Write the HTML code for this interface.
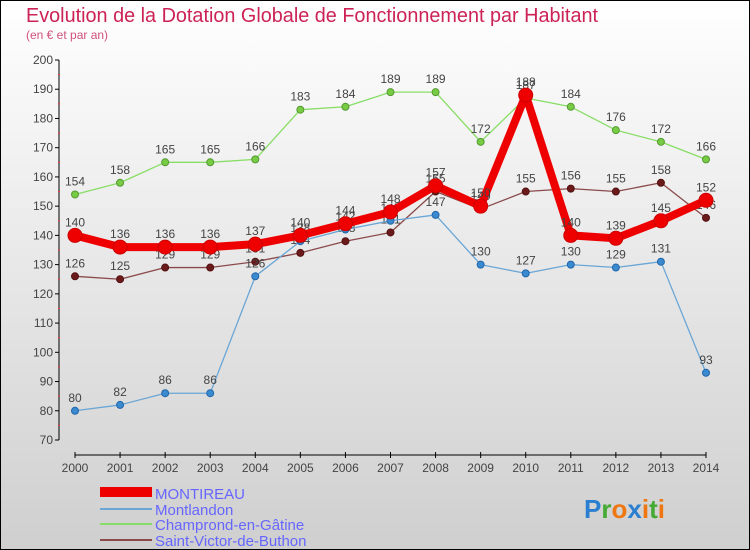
<!DOCTYPE html>
<html><head><meta charset="utf-8"><style>
body{margin:0}
#c{width:750px;height:550px;position:relative;overflow:hidden}
svg text{font-family:"Liberation Sans",sans-serif}
</style></head><body>
<div id="c">
<svg id="s" width="750" height="550" xmlns="http://www.w3.org/2000/svg">
<defs><linearGradient id="bg" x1="0" y1="0" x2="0" y2="1"><stop offset="0" stop-color="#ffffff"/><stop offset="1" stop-color="#cfcfcf"/></linearGradient></defs>
<rect x="0.5" y="0.5" width="749" height="549" fill="url(#bg)" stroke="#000"/>
<text x="26" y="22" font-size="20" fill="#cc2255" textLength="572" lengthAdjust="spacingAndGlyphs">Evolution de la Dotation Globale de Fonctionnement par Habitant</text>
<text x="26" y="39" font-size="12" fill="#d0507a">(en € et par an)</text>
<g id="axes"></g><g id="series"></g>
<g>
<rect x="100" y="487" width="52" height="10" fill="#ee0000"/>
<text x="155" y="499" font-size="15" fill="#6666ff">MONTIREAU</text>
<rect x="100" y="508" width="52" height="2" fill="#6aa6d6"/>
<text x="155" y="515" font-size="15" fill="#6666ff">Montlandon</text>
<rect x="100" y="523" width="52" height="2" fill="#88dd66"/>
<text x="155" y="530" font-size="15" fill="#6666ff">Champrond-en-Gâtine</text>
<rect x="100" y="539" width="52" height="2" fill="#8a4a4a"/>
<text x="155" y="546" font-size="15" fill="#6666ff">Saint-Victor-de-Buthon</text>
</g>
<text x="584" y="518" font-size="26" font-weight="bold"><tspan fill="#2a7fd0">P</tspan><tspan fill="#44aa33">r</tspan><tspan fill="#ee7711">o</tspan><tspan fill="#2a7fd0">x</tspan><tspan fill="#ee7711">i</tspan><tspan fill="#44aa33">t</tspan><tspan fill="#ee7711">i</tspan></text>
</svg></div>
<script>
const years=[2000,2001,2002,2003,2004,2005,2006,2007,2008,2009,2010,2011,2012,2013,2014];
const yTicks=[70,80,90,100,110,120,130,140,150,160,170,180,190,200];
const montireau=[140,136,136,136,137,140,144,148,157,150,188,140,139,145,152];
const montlandon=[80,82,86,86,126,138,142,145,147,130,127,130,129,131,93];
const champrond=[154,158,165,165,166,183,184,189,189,172,187,184,176,172,166];
const saintVictor=[126,125,129,129,131,134,138,141,155,149,155,156,155,158,146];
const NS="http://www.w3.org/2000/svg";
function xs(i){return 75+i*(706-75)/(years.length-1);}
function ys(v){return 440-(v-70)*(380/130);}
function mk(t,a,p){const e=document.createElementNS(NS,t);for(const k in a)e.setAttribute(k,a[k]);p.appendChild(e);return e;}
const ax=document.getElementById('axes');
const yl=mk('line',{x1:59,y1:60,x2:59,y2:440,stroke:'#000'},ax);


yTicks.forEach(v=>{
 mk('line',{x1:55,y1:ys(v),x2:59,y2:ys(v),stroke:'#000'},ax);
 if(v<200)mk('line',{x1:58,y1:ys(v+5),x2:60,y2:ys(v+5),stroke:'#e33'},ax);
 const t=mk('text',{x:53,y:ys(v)+4,'font-size':12,'text-anchor':'end',fill:'#444'},ax);t.textContent=v;
 
 
});
const xl=mk('line',{x1:75,y1:455,x2:706,y2:455,stroke:'#000'},ax);


years.forEach((y,i)=>{
 mk('line',{x1:xs(i),y1:452,x2:xs(i),y2:458,stroke:'#000'},ax);
 const t=mk('text',{x:xs(i),y:472,'font-size':12,'text-anchor':'middle',fill:'#444'},ax);t.textContent=y;
 
 
});
const sg=document.getElementById('series');
function draw(data,name,color,w,r,dot,stroke){
 const g=mk('g',{},sg);
 
 
 const l=mk('polyline',{points:data.map((v,i)=>xs(i)+','+ys(v)).join(' '),fill:'none',stroke:color,'stroke-width':w,'stroke-linejoin':'round'},g);
 
 
 data.forEach((v,i)=>{
  const c=mk('circle',{cx:xs(i),cy:ys(v),r:r,fill:dot,stroke:stroke,'stroke-width':1},g);
  
  
  const t=mk('text',{x:xs(i),y:ys(v)-9,'font-size':12,'text-anchor':'middle',fill:'#444'},g);t.textContent=v;
  
  
 });
}
draw(champrond,'champrond','#88dd66',1.3,3.5,'#77cc44','#559933');
draw(saintVictor,'saint-victor','#8a4a4a',1.3,3.5,'#6a1a1a','#551111');
draw(montlandon,'montlandon','#6aa6d6',1.3,3.5,'#3a8ad0','#2266aa');
draw(montireau,'montireau','#ee0000',8,7,'#ee0000','#cc0000');
</script>
</body></html>
